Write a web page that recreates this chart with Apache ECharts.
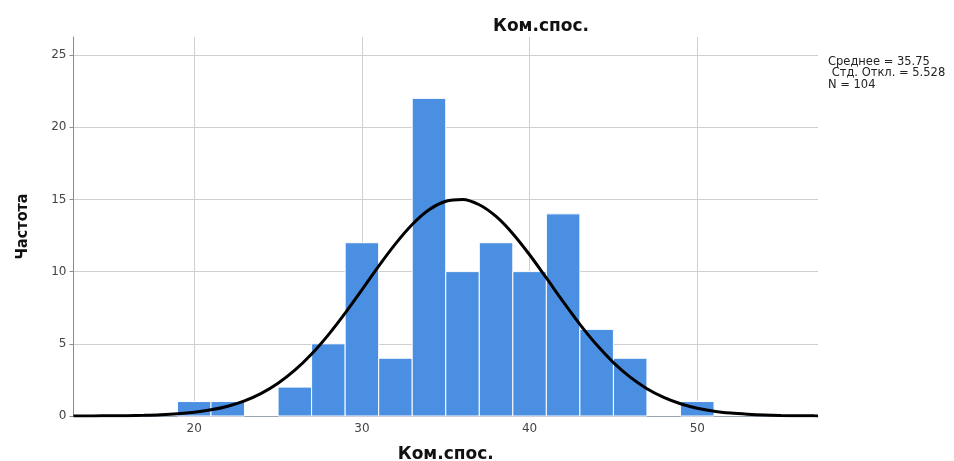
<!DOCTYPE html>
<html>
<head>
<meta charset="utf-8">
<style>
  html, body { margin: 0; padding: 0; background: #ffffff; }
  #chart { width: 954px; height: 461px; }
</style>
<script src="https://cdn.jsdelivr.net/npm/echarts@6/dist/echarts.min.js"></script>
</head>
<body>
<div id="chart"></div>
<script>
// Histogram bins (lower edge, width 2) and their frequencies
const binStarts = [19, 21, 23, 25, 27, 29, 31, 33, 35, 37, 39, 41, 43, 45, 47, 49];
const binWidth = 2;
const counts = [1, 1, 0, 2, 5, 12, 4, 22, 10, 12, 10, 14, 6, 4, 0, 1];

// Fitted normal curve, sampled along the x axis
const curveX = [12.8, 13, 14, 15, 16, 17, 18, 19, 20, 21, 22, 23, 24, 25, 26, 27, 28, 29, 30, 31, 32, 33, 34, 35,
                36, 37, 38, 39, 40, 41, 42, 43, 44, 45, 46, 47, 48, 49, 50, 51, 52, 53, 54, 55, 56, 57, 57.2];
const curveY = [0.002, 0.003, 0.0065, 0.013, 0.025, 0.048, 0.087, 0.152, 0.259, 0.427, 0.68, 1.05, 1.57, 2.27, 3.17, 4.29,
                5.62, 7.12, 8.74, 10.38, 11.92, 13.26, 14.28, 14.87,
                15.0, 14.63, 13.82, 12.63, 11.17, 9.56, 7.92, 6.35, 4.93, 3.70, 2.69, 1.89, 1.29, 0.85, 0.54, 0.33, 0.20,
                0.12, 0.065, 0.035, 0.018, 0.009, 0.008];

// Axis ticks and text
const xTicks = [20, 30, 40, 50];
const chartTitle = 'Ком.спос.';
const xName = 'Ком.спос.';
const yName = 'Частота';
const statsLines = ['Среднее = 35.75', ' Стд. Откл. = 5.528', 'N = 104'];

const barColor = '#4b8fe2';

const binData = binStarts.map((s, i) => [s, s + binWidth, counts[i]]);
const curveData = curveX.map((x, i) => [x, curveY[i]]);

const chart = echarts.init(document.getElementById('chart'), null, { renderer: 'canvas' });

chart.setOption({
  animation: false,
  backgroundColor: '#ffffff',
  title: [
    {
      text: chartTitle,
      left: 488,
      top: 13,
      textStyle: { fontFamily: 'DejaVu Sans', fontWeight: 'bold', fontSize: 17, color: '#111' }
    },
    {
      text: statsLines.join('\n'),
      left: 823,
      top: 51,
      textStyle: { fontFamily: 'DejaVu Sans', fontWeight: 'normal', fontSize: 11.5, lineHeight: 11.5, color: '#222' }
    }
  ],
  grid: { left: 73.5, right: 136, top: 37, bottom: 45, containLabel: false, outerBoundsMode: 'none' },
  xAxis: {
    type: 'value',
    min: 12.8,
    max: 57.2,
    name: xName,
    nameLocation: 'middle',
    nameGap: 30,
    nameTextStyle: { fontFamily: 'DejaVu Sans', fontWeight: 'bold', fontSize: 17, color: '#111' },
    axisLine: { show: true, onZero: false, lineStyle: { color: '#9aa4b4', width: 1 } },
    axisTick: { show: false, customValues: xTicks },
    axisLabel: { customValues: xTicks, margin: 7, fontFamily: 'DejaVu Sans', fontSize: 12, color: '#444' },
    splitLine: { show: true, lineStyle: { color: '#cfcfcf', width: 1 } }
  },
  yAxis: {
    type: 'value',
    min: 0,
    max: 26.25,
    interval: 5,
    name: yName,
    nameLocation: 'middle',
    nameGap: 43,
    nameRotate: 90,
    nameTextStyle: { fontFamily: 'DejaVu Sans Condensed, Liberation Sans, sans-serif', fontWeight: 'bold', fontSize: 16, color: '#111' },
    axisLine: { show: true, lineStyle: { color: '#8c8c8c', width: 1 } },
    axisTick: { show: true, length: 4, lineStyle: { color: '#8c8c8c' } },
    axisLabel: { margin: 7, showMaxLabel: false, fontFamily: 'DejaVu Sans', fontSize: 12, color: '#444' },
    splitLine: { show: true, showMaxLine: false, lineStyle: { color: '#cfcfcf', width: 1 } }
  },
  series: [
    {
      type: 'custom',
      name: 'bins',
      data: binData,
      encode: { x: [0, 1], y: 2 },
      renderItem: function (params, api) {
        const lo = api.value(0);
        const hi = api.value(1);
        const c = api.value(2);
        if (!c) return null;
        const pTop = api.coord([lo, c]);
        const pBot = api.coord([hi, 0]);
        return {
          type: 'rect',
          shape: { x: pTop[0], y: pTop[1], width: pBot[0] - pTop[0], height: pBot[1] - pTop[1] },
          style: { fill: barColor, stroke: '#ffffff', lineWidth: 1 }
        };
      },
      z: 2
    },
    {
      type: 'line',
      name: 'normal',
      data: curveData,
      smooth: 0.3,
      showSymbol: false,
      lineStyle: { color: '#000000', width: 3 },
      z: 3
    }
  ]
});
</script>
</body>
</html>
